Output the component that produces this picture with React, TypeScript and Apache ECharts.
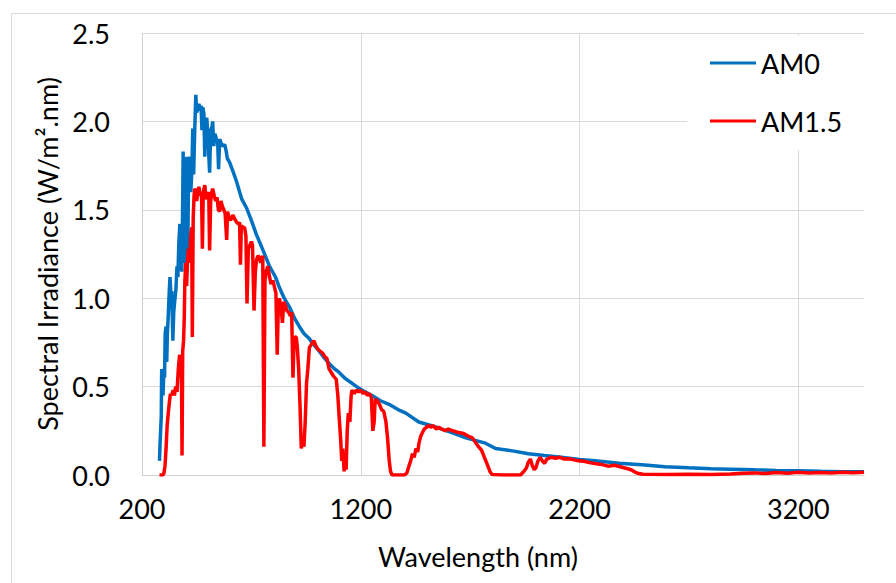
import React, { useEffect, useRef } from "react";
import * as echarts from "echarts";

// Extraterrestrial spectrum (AM0)
const am0Wavelength = [
  280, 282, 285, 288, 290, 293, 296, 300, 303, 306, 310, 313, 316, 320, 325, 328, 332, 336, 341, 345,
  350, 355, 360, 364, 368, 373, 378, 382, 386, 388, 393, 397, 400, 405, 409, 413, 418, 423, 428, 432,
  436, 441, 446, 450, 455, 460, 466, 470, 474, 478, 483, 487, 490, 496, 502, 509, 514, 520, 523, 528,
  533, 540, 546, 550, 555, 564, 570, 578, 585, 590, 600, 615, 632, 656, 678, 700, 723, 750, 783, 810,
  828, 850, 874, 900, 919, 940, 965, 990, 1010, 1035, 1056, 1080, 1101, 1125, 1147, 1170, 1192, 1220, 1251, 1290,
  1329, 1370, 1406, 1465, 1520, 1570, 1616, 1680, 1770, 1816, 1900, 1966, 2040, 2116, 2200, 2271, 2380, 2499, 2590, 2700,
  2800, 2890, 3000, 3100, 3195, 3300, 3400, 3500,
];
const am0Irradiance = [
  0.08, 0.16, 0.25, 0.33, 0.6, 0.55, 0.45, 0.6, 0.55, 0.8, 0.84, 0.64, 0.8, 0.9, 1.05, 1.12, 1.02, 1.04, 0.76, 0.92,
  0.99, 1.05, 1.18, 1.12, 1.3, 1.42, 1.2, 1.15, 1.55, 1.83, 1.2, 1.35, 1.7, 1.8, 1.22, 1.75, 1.8, 1.6, 1.72, 1.96,
  1.7, 1.95, 2.15, 2.05, 2.07, 2.1, 2.06, 2.09, 1.95, 2.08, 2.04, 1.8, 2.0, 2.02, 1.9, 1.71, 1.95, 1.97, 2.0, 1.86,
  1.93, 1.9, 1.88, 1.73, 1.9, 1.87, 1.86, 1.87, 1.83, 1.79, 1.77, 1.72, 1.66, 1.56, 1.51, 1.44, 1.36, 1.28, 1.18, 1.12,
  1.06, 1.0, 0.95, 0.88, 0.84, 0.8, 0.77, 0.73, 0.7, 0.66, 0.63, 0.6, 0.58, 0.55, 0.53, 0.51, 0.49, 0.47, 0.45, 0.42,
  0.4, 0.37, 0.35, 0.3, 0.28, 0.26, 0.24, 0.21, 0.18, 0.15, 0.135, 0.12, 0.11, 0.1, 0.088, 0.08, 0.067, 0.057, 0.047, 0.041,
  0.036, 0.033, 0.029, 0.026, 0.024, 0.021, 0.019, 0.018,
];

// Terrestrial spectrum (AM1.5)
const am15Wavelength = [
  280, 295, 300, 305, 310, 315, 320, 325, 330, 336, 342, 348, 354, 360, 366, 372, 376, 380, 383, 386,
  390, 393, 396, 400, 404, 408, 413, 418, 423, 427, 430, 434, 438, 441, 446, 450, 455, 460, 466, 472,
  476, 480, 487, 493, 500, 505, 509, 514, 519, 523, 530, 537, 543, 549, 555, 561, 567, 574, 580, 587,
  591, 597, 605, 615, 623, 632, 641, 646, 650, 654, 662, 669, 675, 680, 686, 693, 700, 705, 712, 718,
  724, 730, 737, 743, 748, 752, 757, 762, 767, 775, 783, 790, 798, 806, 812, 818, 822, 828, 835, 842,
  848, 855, 862, 870, 878, 884, 890, 895, 900, 905, 910, 916, 922, 928, 934, 940, 946, 952, 958, 965,
  975, 985, 995, 1005, 1015, 1025, 1035, 1045, 1055, 1065, 1075, 1088, 1095, 1101, 1108, 1113, 1118, 1124, 1128, 1133,
  1138, 1143, 1150, 1156, 1160, 1170, 1180, 1190, 1200, 1210, 1220, 1230, 1240, 1248, 1255, 1261, 1266, 1275, 1285, 1295,
  1305, 1315, 1323, 1330, 1336, 1343, 1400, 1410, 1420, 1428, 1436, 1444, 1452, 1460, 1466, 1474, 1482, 1490, 1500, 1511,
  1520, 1530, 1545, 1556, 1570, 1585, 1600, 1620, 1648, 1670, 1690, 1710, 1738, 1752, 1765, 1778, 1790, 1800, 1850, 1930,
  1945, 1957, 1965, 1975, 1985, 1993, 2000, 2010, 2020, 2030, 2040, 2050, 2070, 2090, 2110, 2130, 2150, 2170, 2195, 2220,
  2245, 2270, 2300, 2330, 2360, 2390, 2420, 2435, 2455, 2470, 2490, 2600, 2700, 2800, 2890, 2950, 3000, 3050, 3100, 3150,
  3200, 3250, 3300, 3350, 3400, 3450, 3500,
];
const am15Irradiance = [
  0, 0, 0.01, 0.05, 0.15, 0.28, 0.35, 0.41, 0.46, 0.45, 0.48, 0.45, 0.5, 0.47, 0.6, 0.68, 0.55, 0.65, 0.11, 0.7,
  0.76, 0.88, 1.1, 1.2, 1.07, 1.22, 1.28, 1.2, 1.36, 1.4, 0.78, 1.45, 1.58, 1.62, 1.6, 1.55, 1.6, 1.63, 1.58, 1.6,
  1.28, 1.6, 1.64, 1.56, 1.58, 1.6, 1.27, 1.55, 1.6, 1.62, 1.58, 1.55, 1.57, 1.5, 1.49, 1.55, 1.52, 1.5, 1.48, 1.33,
  1.49, 1.46, 1.44, 1.47, 1.45, 1.43, 1.42, 1.43, 1.19, 1.41, 1.4, 1.4, 1.35, 0.97, 1.28, 1.3, 1.32, 1.3, 0.93, 1.15,
  1.22, 1.24, 1.23, 1.2, 1.22, 1.24, 0.16, 1.1, 1.15, 1.18, 1.12, 1.08, 1.1, 1.06, 1.03, 0.68, 0.9, 1.0, 0.95, 0.86,
  0.98, 0.96, 0.93, 0.92, 0.9, 0.92, 0.55, 0.75, 0.78, 0.78, 0.72, 0.6, 0.4, 0.15, 0.2, 0.16, 0.3, 0.52, 0.6, 0.72,
  0.74, 0.76, 0.73, 0.71, 0.7, 0.69, 0.67, 0.66, 0.6, 0.58, 0.56, 0.54, 0.45, 0.33, 0.2, 0.08, 0.15, 0.02, 0.1, 0.03,
  0.25, 0.35, 0.3, 0.45, 0.48, 0.46, 0.48, 0.47, 0.48, 0.46, 0.47, 0.45, 0.46, 0.44, 0.25, 0.3, 0.43, 0.42, 0.4, 0.37,
  0.36, 0.3, 0.2, 0.08, 0.02, 0, 0, 0.01, 0.05, 0.08, 0.12, 0.1, 0.15, 0.13, 0.18, 0.22, 0.24, 0.26, 0.27, 0.28,
  0.27, 0.28, 0.26, 0.27, 0.26, 0.25, 0.26, 0.25, 0.24, 0.235, 0.22, 0.21, 0.16, 0.14, 0.1, 0.06, 0.02, 0.003, 0, 0,
  0.02, 0.04, 0.07, 0.09, 0.05, 0.03, 0.04, 0.08, 0.1, 0.08, 0.065, 0.09, 0.1, 0.095, 0.1, 0.09, 0.092, 0.087, 0.08, 0.078,
  0.07, 0.065, 0.06, 0.05, 0.055, 0.045, 0.035, 0.03, 0.015, 0.008, 0.004, 0.003, 0.004, 0.003, 0.005, 0.01, 0.012, 0.008, 0.014, 0.01,
  0.015, 0.011, 0.014, 0.012, 0.015, 0.013, 0.016,
];

const seriesNames = ["AM0", "AM1.5"];
const xTickStart = 200;
const FONT = "Lato, 'Open Sans', sans-serif";

export default function App() {
  const ref = useRef<HTMLDivElement>(null);

  useEffect(() => {
    if (!ref.current) return;
    const chart = echarts.init(ref.current, null, { renderer: "svg" });
    const am0Data = am0Wavelength.map((w, i) => [w, am0Irradiance[i]]);
    const am15Data = am15Wavelength.map((w, i) => [w, am15Irradiance[i]]);

    chart.setOption({
      animation: false,
      backgroundColor: "#ffffff",
      textStyle: { fontFamily: FONT },
      grid: { left: 142, right: 32, top: 33, bottom: 108, containLabel: false },
      graphic: [
        {
          type: "rect",
          left: 9,
          top: 11,
          shape: { width: 920, height: 620 },
          style: { fill: "none", stroke: "#d9d9d9", lineWidth: 1 },
          silent: true,
          z: -10,
        },
      ],
      legend: {
        orient: "vertical",
        left: 687,
        top: 36,
        width: 175,
        padding: [12, 30, 14, 23],
        backgroundColor: "#ffffff",
        icon: "rect",
        itemWidth: 46,
        itemHeight: 3,
        itemGap: 28,
        data: seriesNames,
        textStyle: { fontFamily: FONT, fontSize: 27, color: "#000000", lineHeight: 30 },
      },
      xAxis: {
        type: "value",
        min: 200,
        max: 3500,
        interval: 1000,
        name: "Wavelength (nm)",
        nameLocation: "middle",
        nameGap: 68,
        nameTextStyle: { fontFamily: FONT, fontSize: 27, color: "#000000", padding: [0, 50, 0, 0] },
        axisLine: { show: true, lineStyle: { color: "#d0d0d0", width: 1 } },
        axisTick: { show: false },
        axisLabel: {
          fontFamily: FONT,
          fontSize: 27,
          color: "#000000",
          margin: 20,
          formatter: (v: number) => ((v - xTickStart) % 1000 === 0 ? String(v) : ""),
        },
        splitLine: { show: true, showMaxLine: false, lineStyle: { color: "#d9d9d9", width: 1 } },
      },
      yAxis: {
        type: "value",
        min: 0,
        max: 2.5,
        interval: 0.5,
        name: "Spectral Irradiance (W/m\u00b2.nm)",
        nameLocation: "middle",
        nameRotate: 90,
        nameGap: 80,
        nameTextStyle: { fontFamily: FONT, fontSize: 27, color: "#000000" },
        axisLine: { show: true, lineStyle: { color: "#d0d0d0", width: 1 } },
        axisTick: { show: false },
        axisLabel: {
          fontFamily: FONT,
          fontSize: 27,
          color: "#000000",
          margin: 32,
          formatter: (v: number) => v.toFixed(1),
        },
        splitLine: { show: true, lineStyle: { color: "#d9d9d9", width: 1 } },
      },
      series: [
        {
          name: seriesNames[0],
          type: "line",
          data: am0Data,
          symbol: "none",
          lineStyle: { color: "#0070C0", width: 3.5 },
          itemStyle: { color: "#0070C0" },
        },
        {
          name: seriesNames[1],
          type: "line",
          data: am15Data,
          symbol: "none",
          lineStyle: { color: "#FF0000", width: 3.5 },
          itemStyle: { color: "#FF0000" },
        },
      ],
    });

    return () => chart.dispose();
  }, []);

  return (
    <div
      ref={ref}
      style={{ position: "fixed", left: 0, top: 0, width: 896, height: 583 }}
    />
  );
}
